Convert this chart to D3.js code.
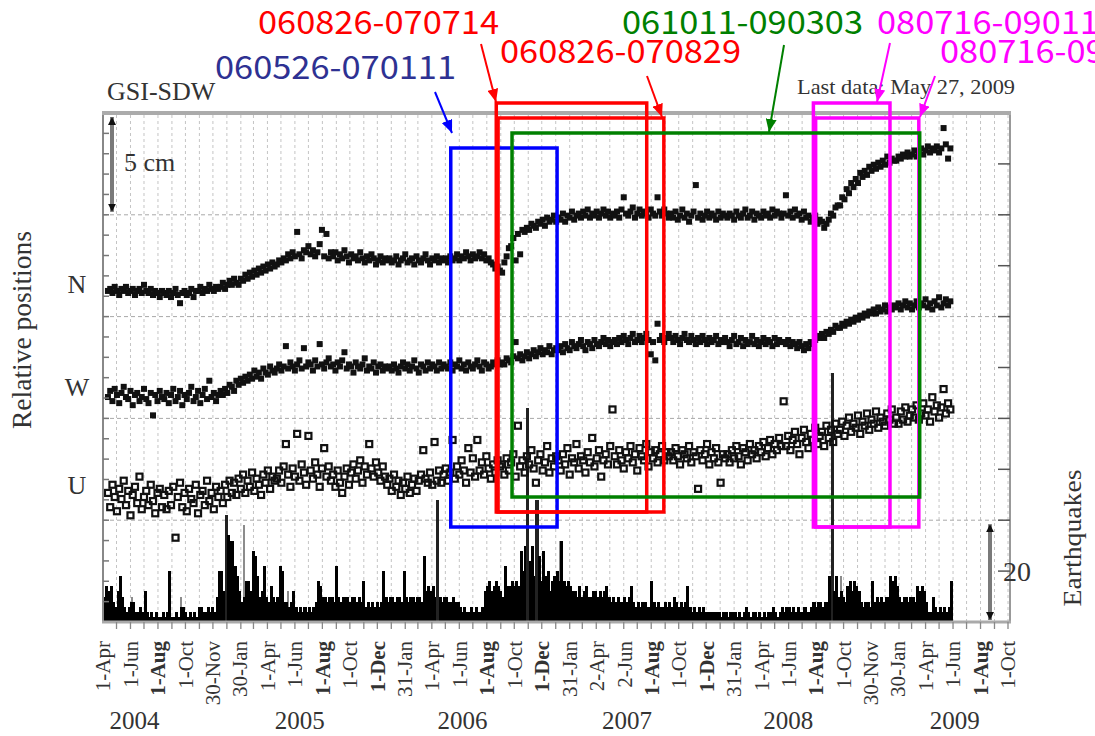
<!DOCTYPE html>
<html>
<head>
<meta charset="utf-8">
<script src="https://cdn.jsdelivr.net/npm/d3@7"></script>
<style>
  body { margin: 0; background: #fff; }
  svg { display: block; }
  .serif { font-family: "Liberation Serif", "DejaVu Serif", serif; fill: #333; }
  .note { font-family: "Noto Sans CJK JP", "Noto Sans", sans-serif; }
</style>
</head>
<body>
<div id="chart"></div>
<script>
// frame size
const FRAME_WIDTH = 1095;
const FRAME_HEIGHT = 736;
const PLOT = {left: 103, right: 1010, top: 113, bottom: 622};

// ---------------- data ----------------
// GPS daily positions, one sample every POS_STEP days, displacement in mm
const POS_START = "2004-04-12";
const POS_STEP = 5;
const COMPONENTS = ["N", "W", "U"];

const N_MM = [
  0, 1, -1, 2, 0, -2, 1, 0, 2, -1, 0, 1, -2, 0, 1, -1, 3, 0, -1, 1, -2, 0, -1, -3, 0,
  -1, -2, 0, -3, -1, 1, -2, -6, -1, 0, -2, -1, 1, -3, 0, 0, 2, -1, 1, 0, 3, 1, 0, 2, 1,
  2, 4, 1, 3, 5, 3, 6, 4, 3, 6, 5, 8, 6, 9, 7, 10, 8, 11, 9, 12, 10, 13, 11, 14, 12,
  13, 15, 14, 16, 15, 18, 16, 19, 17, 29, 18, 16, 20, 19, 22, 18, 20, 17, 19, 23, 30, 17, 28, 16, 19,
  17, 19, 15, 18, 16, 20, 17, 14, 18, 16, 17, 15, 19, 16, 14, 17, 15, 18, 16, 13, 15, 17, 14, 16, 15,
  16, 14, 15, 17, 13, 15, 16, 18, 14, 15, 16, 13, 17, 15, 14, 16, 18, 15, 13, 16, 15, 17, 14, 16, 15,
  16, 14, 17, 15, 16, 18, 15, 17, 16, 19, 17, 15, 18, 16, 17, 19, 16, 18, 15, 16, 14, 13, 11, 12, 10,
  9, 14, 17, 21, 22, 26, 15, 28, 18, 30, 29, 31, 30, 33, 32, 31, 34, 33, 35, 32, 36, 34, 35, 37, 34,
  36, 35, 38, 34, 37, 36, 39, 35, 37, 38, 36, 39, 37, 40, 36, 38, 37, 39, 36, 38, 40, 37, 39, 36, 38,
  37, 39, 36, 40, 46, 38, 37, 39, 41, 36, 38, 40, 37, 39, 38, 36, 40, 38, 37, 46, 39, 37, 40, 38, 36,
  38, 36, 39, 35, 37, 40, 36, 38, 34, 37, 39, 52, 36, 38, 35, 37, 39, 36, 38, 37, 35, 39, 36, 38, 37,
  36, 38, 37, 35, 39, 37, 36, 38, 40, 36, 37, 39, 35, 38, 37, 36, 39, 37, 38, 36, 40, 37, 39, 38, 36,
  38, 47, 37, 39, 36, 40, 37, 38, 35, 39, 36, 37, 34, 36, 37, 33, 35, 34, 31, 33, 35, 38, 37, 41, 42,
  42, 46, 45, 50, 48, 53, 51, 55, 53, 58, 56, 59, 57, 61, 59, 62, 60, 63, 61, 64, 62, 66, 63, 65, 64,
  64, 66, 65, 67, 66, 68, 66, 67, 69, 66, 68, 70, 67, 69, 71, 68, 70, 69, 71, 68, 70, 80, 72, 65, 70
];

const W_MM = [
  0, 3, -2, 4, 1, -3, 2, 5, 0, -1, 3, -4, 1, 2, -2, 0, 4, -1, -3, 2, -9, 1, -2, 3, 0,
  -1, 2, -3, 1, 4, -2, 0, 3, -4, 1, -1, 2, 5, -2, 0, 3, -3, 1, 4, -1, 8, 0, 2, -2, 1,
  3, 1, 4, 2, 6, 5, 3, 8, 6, 9, 7, 10, 8, 11, 9, 13, 10, 12, 9, 14, 12, 11, 15, 13, 12,
  14, 16, 13, 15, 25, 14, 17, 15, 13, 16, 18, 14, 24, 15, 17, 16, 13, 18, 15, 26, 16, 14, 17, 19, 15,
  16, 13, 17, 15, 18, 22, 14, 16, 15, 12, 17, 15, 14, 16, 19, 13, 15, 14, 17, 12, 15, 16, 13, 15, 14,
  15, 13, 16, 14, 12, 15, 17, 14, 16, 13, 15, 18, 14, 12, 16, 15, 13, 17, 14, 16, 15, 13, 17, 14, 16,
  15, 14, 17, 13, 16, 15, 18, 14, 16, 13, 17, 15, 14, 16, 18, 15, 13, 17, 16, 14, 15, 17, 16, 18, 16,
  17, 16, 19, 18, 17, 20, 27, 19, 21, 18, 20, 22, 19, 21, 23, 20, 22, 24, 21, 23, 22, 25, 21, 23, 24,
  23, 25, 22, 26, 24, 23, 27, 25, 24, 26, 28, 25, 23, 27, 26, 24, 28, 26, 25, 27, 29, 26, 28, 25, 27,
  28, 26, 29, 27, 30, 28, 26, 29, 31, 27, 28, 30, 27, 29, 31, 28, 21, 27, 18, 36, 28, 30, 27, 29, 31,
  29, 27, 30, 28, 26, 29, 31, 28, 27, 30, 28, 26, 29, 27, 30, 28, 26, 29, 27, 28, 30, 26, 28, 27, 29,
  27, 25, 28, 30, 26, 27, 29, 25, 28, 26, 27, 30, 26, 28, 25, 27, 29, 26, 28, 27, 25, 29, 26, 28, 27,
  27, 26, 28, 25, 27, 26, 24, 27, 25, 23, 26, 24, 27, 26, 28, 30, 29, 31, 29, 32, 31, 33, 32, 35, 34,
  34, 36, 35, 37, 36, 38, 37, 39, 38, 40, 39, 41, 40, 42, 41, 43, 41, 44, 42, 43, 45, 42, 44, 43, 45,
  44, 46, 43, 45, 47, 44, 46, 43, 45, 47, 44, 46, 45, 48, 44, 46, 43, 47, 45, 49, 44, 46, 48, 45, 47
];

const U_MM = [
  3, -4, 7, 1, -6, 5, 0, 9, -3, 4, -8, 2, 6, -2, 11, -5, 1, 4, -3, 7, -1, -7, 3, 5, -4,
  2, -5, 4, -3, 6, -19, 1, 8, -4, 3, -6, 5, 0, -2, 7, -7, 2, 4, -3, 9, -1, 3, -5, 6, 1,
  4, -2, 7, 1, 9, 3, 8, 2, 10, 5, 12, 3, 9, 6, 13, 4, 10, 7, 2, 12, 8, 14, 5, 11, 9,
  10, 14, 8, 16, 27, 12, 6, 15, 11, 32, 9, 17, 13, 7, 31, 14, 10, 18, 12, 6, 15, 25, 11, 16, 9,
  12, 6, 14, 8, 3, 11, 15, 7, 13, 17, 10, 14, 19, 8, 16, 12, 27, 15, 11, 18, 13, 9, 16, 11, 7,
  10, 4, 12, 6, 9, 2, 8, 5, 11, 3, 7, 10, 4, 9, 12, 24, 10, 8, 13, 7, 28, 9, 14, 8, 12,
  15, 9, 13, 29, 10, 16, 12, 19, 14, 8, 25, 13, 20, 11, 29, 14, 18, 12, 21, 15, 10, 17, 13, 19, 16,
  17, 12, 20, 14, 18, 22, 11, 36, 16, 19, 13, 21, 17, 24, 15, 8, 19, 22, 14, 18, 26, 13, 20, 16, 21,
  19, 14, 22, 17, 25, 12, 20, 18, 27, 15, 21, 19, 13, 23, 18, 30, 16, 20, 24, 11, 19, 22, 17, 26, 44,
  21, 17, 24, 19, 15, 23, 20, 26, 18, 22, 14, 25, 21, 19, 27, 16, 23, 20, 24, 18, 22, 26, 19, 23, 21,
  23, 19, 25, 21, 17, 24, 22, 20, 26, 18, 23, 21, 5, 24, 19, 22, 27, 17, 23, 20, 25, 18, 8, 22, 20,
  22, 18, 24, 20, 26, 21, 17, 25, 23, 19, 27, 22, 24, 20, 26, 23, 28, 21, 25, 29, 22, 27, 24, 30, 26,
  48, 26, 31, 24, 29, 33, 27, 22, 30, 34, 28, 25, 32, 29, 35, 27, 31, 33, 26, 36, 30, 34, 28, 37, 32,
  34, 38, 31, 36, 40, 33, 37, 35, 41, 32, 38, 36, 42, 34, 39, 37, 43, 35, 40, 38, 36, 42, 39, 44, 37,
  40, 37, 43, 39, 45, 38, 41, 44, 40, 46, 39, 42, 47, 41, 44, 38, 50, 43, 46, 40, 45, 54, 42, 47, 44
];

// earthquake counts (peak daily count in each EQ_STEP-day bin)
const EQ_START = "2004-04-01";
const EQ_STEP = 5;
const EQ_COUNTS = [
  5, 7, 6, 7, 4, 3, 6, 9, 5, 3, 2, 3, 4, 4, 2, 2, 3, 2, 6, 2,
  1, 2, 1, 2, 1, 1, 2, 1, 2, 10, 1, 1, 2, 1, 3, 3, 2, 1, 2, 1,
  2, 1, 3, 3, 2, 2, 3, 2, 3, 2, 5, 10, 10, 6, 21, 17, 16, 16, 11, 9,
  6, 4, 5, 8, 8, 6, 14, 13, 9, 5, 6, 11, 5, 4, 7, 5, 4, 5, 11, 10,
  4, 4, 3, 4, 6, 3, 2, 3, 2, 3, 2, 3, 2, 3, 4, 8, 7, 5, 5, 4,
  5, 5, 4, 11, 5, 4, 5, 5, 5, 4, 5, 5, 4, 5, 4, 8, 3, 4, 3, 4,
  3, 4, 3, 4, 10, 5, 4, 5, 5, 4, 5, 5, 4, 10, 5, 4, 5, 5, 4, 5,
  5, 4, 13, 6, 7, 6, 7, 5, 24, 5, 4, 5, 5, 4, 4, 5, 4, 4, 3, 2,
  3, 2, 2, 3, 2, 3, 2, 2, 3, 6, 7, 8, 6, 7, 8, 7, 6, 5, 11, 7,
  7, 8, 7, 8, 7, 14, 10, 15, 42, 12, 15, 9, 24, 13, 8, 14, 9, 10, 6, 8,
  9, 10, 8, 16, 8, 7, 8, 7, 6, 6, 5, 7, 5, 6, 7, 5, 5, 6, 6, 5,
  6, 5, 6, 7, 5, 4, 5, 4, 5, 4, 4, 5, 4, 5, 7, 4, 3, 4, 3, 4,
  4, 3, 3, 8, 4, 3, 4, 3, 3, 4, 3, 4, 3, 5, 4, 3, 4, 3, 4, 7,
  3, 2, 3, 2, 3, 2, 3, 2, 2, 2, 2, 2, 2, 2, 1, 2, 2, 1, 2, 2,
  2, 1, 2, 1, 2, 3, 2, 1, 2, 2, 1, 2, 1, 2, 1, 2, 2, 3, 2, 1,
  2, 3, 2, 3, 3, 2, 3, 2, 3, 2, 2, 3, 2, 2, 3, 4, 3, 4, 4, 3,
  4, 4, 9, 49, 6, 9, 5, 6, 5, 4, 7, 8, 6, 8, 7, 6, 4, 3, 4, 4,
  3, 8, 4, 5, 4, 5, 4, 5, 5, 9, 8, 9, 7, 5, 4, 5, 5, 4, 5, 5,
  4, 7, 6, 7, 6, 4, 2, 2, 5, 3, 2, 3, 2, 3, 2, 3, 8
];

// lighter (gray) earthquake bars
const EQ_GRAY_DATES = ["2004-06-02", "2004-09-19", "2005-02-06", "2005-05-14", "2007-01-09", "2008-09-22", "2009-01-18"];
const EQ_GRAY_COUNTS = [5, 5, 19, 6, 16, 9, 8];

// bottom tick labels
const TICK_DATES = [
  "2004-04-01", "2004-06-01", "2004-08-01", "2004-10-01", "2004-11-30", "2005-01-30",
  "2005-04-01", "2005-06-01", "2005-08-01", "2005-10-01", "2005-12-01", "2006-01-31",
  "2006-04-01", "2006-06-01", "2006-08-01", "2006-10-01", "2006-12-01", "2007-01-31",
  "2007-04-02", "2007-06-02", "2007-08-01", "2007-10-01", "2007-12-01", "2008-01-31",
  "2008-04-01", "2008-06-01", "2008-08-01", "2008-10-01", "2008-11-30", "2009-01-30",
  "2009-04-01", "2009-06-01", "2009-08-01", "2009-10-01"
];
const TICK_LABELS = [
  "1-Apr", "1-Jun", "1-Aug", "1-Oct", "30-Nov", "30-Jan",
  "1-Apr", "1-Jun", "1-Aug", "1-Oct", "1-Dec", "31-Jan",
  "1-Apr", "1-Jun", "1-Aug", "1-Oct", "1-Dec", "31-Jan",
  "2-Apr", "2-Jun", "1-Aug", "1-Oct", "1-Dec", "31-Jan",
  "1-Apr", "1-Jun", "1-Aug", "1-Oct", "30-Nov", "30-Jan",
  "1-Apr", "1-Jun", "1-Aug", "1-Oct"
];
const YEAR_LABELS = ["2004", "2005", "2006", "2007", "2008", "2009"];
const YEAR_DATES = ["2004-06-10", "2005-06-12", "2006-06-08", "2007-06-08", "2008-05-31", "2009-06-05"];

// annotated periods (box extents as drawn on the figure)
const PERIOD_LABELS = ["060526-070111", "080716-090111", "080716-090303", "060826-070714", "060826-070829", "061011-090303"];
const PERIOD_STARTS = ["2006-05-13", "2008-07-26", "2008-07-31", "2006-08-22", "2006-08-26", "2006-09-26"];
const PERIOD_ENDS   = ["2007-01-04", "2009-01-12", "2009-03-17", "2007-07-22", "2007-08-29", "2009-03-19"];

// ---------------- layout / style ----------------
const COMPONENT_OFFSET_CM = [16.26, 11.05, 6.04];
const COMPONENT_LABEL_Y = [293, 396, 494];

const PERIOD_COLORS = ["#0000ff", "#ff00ff", "#ff00ff", "#ff0000", "#ff0000", "#008000"];
const PERIOD_TEXT_COLORS = ["#2e3192", "#ff00ff", "#ff00ff", "#ff0000", "#ff0000", "#008000"];
const PERIOD_BOX_Y = [[148, 527], [103, 527], [118, 527], [103, 512], [118, 512], [133, 497]];
const PERIOD_LABEL_POS = [[215, 78], [877, 33], [940, 62], [258, 33], [500, 62], [622, 33]];
const PERIOD_ARROWS = [
  [[435, 92], [452, 133]],
  [[890, 43], [877, 102]],
  [[935, 76], [920, 117]],
  [[481, 44], [496, 102]],
  [[647, 76], [662, 117]],
  [[784, 45], [769, 132]]
];

// ---------------- scales ----------------
const parseDate = d3.utcParse("%Y-%m-%d");

const X_SCALE = d3.scaleUtc()
                  .domain([parseDate("2004-04-01"), parseDate("2009-10-01")])
                  .range([PLOT.left, 1008]);

// relative positions in cm (earthquake panel occupies 0-5 cm)
const Y_POS = d3.scaleLinear()
                .domain([0, 25])
                .range([PLOT.bottom, PLOT.top]);

// 20 earthquakes = 5 cm of height
const Y_EQ = d3.scaleLinear()
               .domain([0, 20])
               .range([PLOT.bottom, Y_POS(5)]);

const svg = d3.select("#chart")
              .append("svg")
                .attr("width", FRAME_WIDTH)
                .attr("height", FRAME_HEIGHT);

const defs = svg.append("defs");

function addArrowMarker(id, color, len, wid) {
  defs.append("marker")
        .attr("id", id)
        .attr("viewBox", "0 0 " + len + " " + wid)
        .attr("refX", len)
        .attr("refY", wid / 2)
        .attr("markerWidth", len)
        .attr("markerHeight", wid)
        .attr("markerUnits", "userSpaceOnUse")
        .attr("orient", "auto-start-reverse")
      .append("path")
        .attr("d", "M0,0L" + len + "," + (wid / 2) + "L0," + wid + "Z")
        .attr("fill", color);
}
addArrowMarker("head-black", "#111", 8, 8);
PERIOD_COLORS.forEach((c, i) => addArrowMarker("head-" + i, c, 13, 11));

// ---------------- grid ----------------
const MONTHS = d3.utcMonth.range(parseDate("2004-05-01"), parseDate("2009-10-02"));

svg.append("g")
  .selectAll("line")
  .data(MONTHS)
  .join("line")
    .attr("x1", d => X_SCALE(d))
    .attr("x2", d => X_SCALE(d))
    .attr("y1", PLOT.top + 2)
    .attr("y2", PLOT.bottom)
    .attr("stroke", "#c4c4c4")
    .attr("stroke-width", 1)
    .attr("stroke-dasharray", "3,3");

svg.append("g")
  .selectAll("line")
  .data([5, 10, 15, 20])
  .join("line")
    .attr("x1", PLOT.left)
    .attr("x2", PLOT.right)
    .attr("y1", d => Y_POS(d))
    .attr("y2", d => Y_POS(d))
    .attr("stroke", "#a8a8a8")
    .attr("stroke-width", 1)
    .attr("stroke-dasharray", "4,3");

// ---------------- earthquakes ----------------
const eqStart = parseDate(EQ_START);
const eqData = EQ_COUNTS.map((c, i) => ({date: d3.utcDay.offset(eqStart, i * EQ_STEP), count: c}));
const EQ_BAR_W = X_SCALE(d3.utcDay.offset(eqStart, EQ_STEP)) - X_SCALE(eqStart);

svg.append("g")
  .attr("shape-rendering", "crispEdges")
  .selectAll("rect")
  .data(EQ_GRAY_DATES.map((d, i) => ({date: parseDate(d), count: EQ_GRAY_COUNTS[i]})))
  .join("rect")
    .attr("x", d => X_SCALE(d.date))
    .attr("y", d => Y_EQ(d.count))
    .attr("width", 2.2)
    .attr("height", d => Y_EQ(0) - Y_EQ(d.count))
    .attr("fill", "#8c8c8c");

svg.append("g")
  .attr("shape-rendering", "crispEdges")
  .selectAll("rect")
  .data(eqData)
  .join("rect")
    .attr("x", d => X_SCALE(d.date))
    .attr("y", d => Y_EQ(d.count))
    .attr("width", EQ_BAR_W + 0.8)
    .attr("height", d => Y_EQ(0) - Y_EQ(d.count))
    .attr("fill", d => d.count > 20 ? "#222" : "#000");

// ---------------- positions ----------------
const posStart = parseDate(POS_START);
const SERIES = [N_MM, W_MM, U_MM];

SERIES.forEach((values, k) => {
  const pts = values.map((v, i) => ({date: d3.utcDay.offset(posStart, i * POS_STEP), cm: COMPONENT_OFFSET_CM[k] + v / 10}));
  const hollow = COMPONENTS[k] === "U";
  const size = hollow ? 6 : 6;
  svg.append("g")
    .selectAll("rect")
    .data(pts)
    .join("rect")
      .attr("x", d => X_SCALE(d.date) - size / 2)
      .attr("y", d => Y_POS(d.cm) - size / 2)
      .attr("width", size)
      .attr("height", size)
      .attr("fill", hollow ? "none" : "#111")
      .attr("stroke", hollow ? "#111" : "none")
      .attr("stroke-width", 2.2);
});

// ---------------- frame and ticks ----------------
svg.append("line")
  .attr("x1", PLOT.left).attr("x2", PLOT.left)
  .attr("y1", PLOT.top).attr("y2", PLOT.bottom)
  .attr("stroke", "#888").attr("stroke-width", 2);
svg.append("line")
  .attr("x1", PLOT.right).attr("x2", PLOT.right)
  .attr("y1", PLOT.top).attr("y2", PLOT.bottom)
  .attr("stroke", "#999").attr("stroke-width", 2);
svg.append("line")
  .attr("x1", PLOT.left - 1).attr("x2", PLOT.right + 1)
  .attr("y1", PLOT.top).attr("y2", PLOT.top)
  .attr("stroke", "#ababab").attr("stroke-width", 4);
svg.append("line")
  .attr("x1", PLOT.left - 1).attr("x2", PLOT.right + 1)
  .attr("y1", PLOT.bottom).attr("y2", PLOT.bottom)
  .attr("stroke", "#aaa").attr("stroke-width", 3);

// left ticks every 1 cm
svg.append("g")
  .selectAll("line")
  .data(d3.range(1, 25))
  .join("line")
    .attr("x1", PLOT.left)
    .attr("x2", PLOT.left + 6)
    .attr("y1", d => Y_POS(d))
    .attr("y2", d => Y_POS(d))
    .attr("stroke", "#777")
    .attr("stroke-width", 1.5);

// right ticks every 2.5 cm
svg.append("g")
  .selectAll("line")
  .data(d3.range(1, 10).map(d => d * 2.5))
  .join("line")
    .attr("x1", PLOT.right)
    .attr("x2", PLOT.right - 12)
    .attr("y1", d => Y_POS(d))
    .attr("y2", d => Y_POS(d))
    .attr("stroke", "#555")
    .attr("stroke-width", 1.5);

// bottom monthly ticks
svg.append("g")
  .selectAll("line")
  .data(MONTHS)
  .join("line")
    .attr("x1", d => X_SCALE(d))
    .attr("x2", d => X_SCALE(d))
    .attr("y1", PLOT.bottom)
    .attr("y2", PLOT.bottom + 7)
    .attr("stroke", "#888")
    .attr("stroke-width", 1.3);

// ---------------- scale bars ----------------
svg.append("line")
  .attr("x1", 112).attr("x2", 112)
  .attr("y1", Y_POS(20) - 3).attr("y2", Y_POS(25) + 4)
  .attr("stroke", "#7a7a7a").attr("stroke-width", 4)
  .attr("marker-start", "url(#head-black)")
  .attr("marker-end", "url(#head-black)");

svg.append("line")
  .attr("x1", 990).attr("x2", 990)
  .attr("y1", Y_EQ(0) - 2).attr("y2", Y_EQ(20) + 4)
  .attr("stroke", "#7a7a7a").attr("stroke-width", 4)
  .attr("marker-start", "url(#head-black)")
  .attr("marker-end", "url(#head-black)");

svg.append("text").attr("class", "serif")
  .attr("x", 124).attr("y", 171)
  .attr("font-size", 26)
  .text("5 cm");

svg.append("text").attr("class", "serif")
  .attr("x", 1003).attr("y", 581)
  .attr("font-size", 28)
  .text("20");

// ---------------- texts ----------------
svg.append("text").attr("class", "serif")
  .attr("x", 107).attr("y", 100)
  .attr("font-size", 26)
  .attr("fill", "#444")
  .text("GSI-SDW");

svg.append("text").attr("class", "serif")
  .attr("x", 797).attr("y", 94)
  .attr("font-size", 22)
  .attr("textLength", 218)
  .attr("lengthAdjust", "spacingAndGlyphs")
  .text("Last data: May 27, 2009");

svg.append("text").attr("class", "serif")
  .attr("transform", "translate(31,330) rotate(-90)")
  .attr("text-anchor", "middle")
  .attr("font-size", 27)
  .attr("textLength", 198)
  .attr("lengthAdjust", "spacingAndGlyphs")
  .text("Relative positions");

svg.append("text").attr("class", "serif")
  .attr("transform", "translate(1081,538) rotate(-90)")
  .attr("text-anchor", "middle")
  .attr("font-size", 26)
  .attr("textLength", 137)
  .attr("lengthAdjust", "spacingAndGlyphs")
  .text("Earthquakes");

svg.append("g")
  .selectAll("text")
  .data(COMPONENTS)
  .join("text")
    .attr("class", "serif")
    .attr("x", 77)
    .attr("y", (d, i) => COMPONENT_LABEL_Y[i])
    .attr("text-anchor", "middle")
    .attr("font-size", 26)
    .text(d => d);

// rotated date labels
svg.append("g")
  .selectAll("text")
  .data(TICK_DATES)
  .join("text")
    .attr("class", "serif")
    .attr("transform", d => "translate(" + X_SCALE(parseDate(d)) + ",641) rotate(-90)")
    .attr("text-anchor", "end")
    .attr("dy", "0.35em")
    .attr("font-size", 21)
    .attr("font-weight", (d, i) => (TICK_LABELS[i] === "1-Aug" || TICK_LABELS[i] === "1-Dec") ? "bold" : "normal")
    .text((d, i) => TICK_LABELS[i]);

svg.append("g")
  .selectAll("text")
  .data(YEAR_LABELS)
  .join("text")
    .attr("class", "serif")
    .attr("x", (d, i) => X_SCALE(parseDate(YEAR_DATES[i])))
    .attr("y", 729)
    .attr("text-anchor", "middle")
    .attr("font-size", 25)
    .text(d => d);

// ---------------- annotations ----------------
const ann = svg.append("g");

PERIOD_LABELS.forEach((label, i) => {
  const x0 = X_SCALE(parseDate(PERIOD_STARTS[i]));
  const x1 = X_SCALE(parseDate(PERIOD_ENDS[i]));
  const [y0, y1] = PERIOD_BOX_Y[i];
  ann.append("rect")
    .attr("x", x0)
    .attr("y", y0)
    .attr("width", x1 - x0)
    .attr("height", y1 - y0)
    .attr("fill", "none")
    .attr("stroke", PERIOD_COLORS[i])
    .attr("stroke-width", 3.5);
});

PERIOD_LABELS.forEach((label, i) => {
  const [[ax, ay], [bx, by]] = PERIOD_ARROWS[i];
  ann.append("line")
    .attr("x1", ax).attr("y1", ay)
    .attr("x2", bx).attr("y2", by)
    .attr("stroke", PERIOD_COLORS[i])
    .attr("stroke-width", 2)
    .attr("marker-end", "url(#head-" + i + ")");

  ann.append("text")
    .attr("class", "note")
    .attr("x", PERIOD_LABEL_POS[i][0])
    .attr("y", PERIOD_LABEL_POS[i][1] + 1)
    .attr("font-size", 32)
    .attr("textLength", 241)
    .attr("lengthAdjust", "spacingAndGlyphs")
    .attr("fill", PERIOD_TEXT_COLORS[i])
    .text(label);
});
</script>
</body>
</html>
